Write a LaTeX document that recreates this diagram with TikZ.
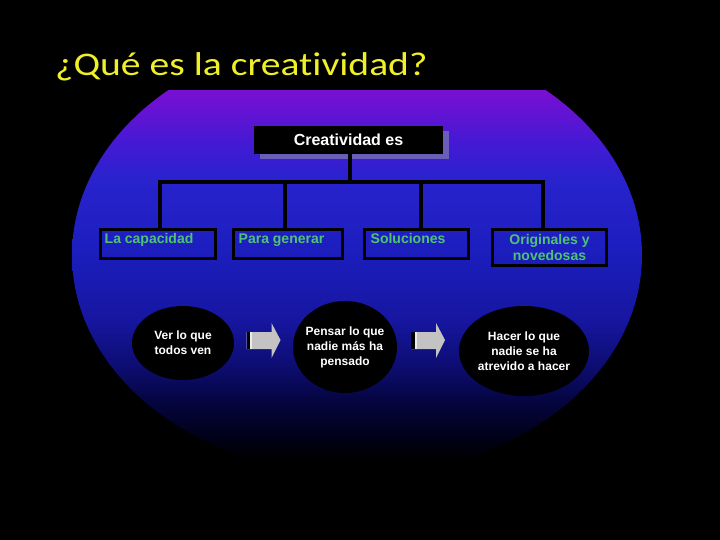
\documentclass[tikz,border=0pt]{standalone}
\usepackage{fontspec}
\setmainfont{Liberation Sans}
\newfontfamily\titlefont[FakeStretch=1.2,Ligatures=NoCommon]{Carlito}
\usetikzlibrary{shapes.geometric,calc,shadows}
\definecolor{s1}{RGB}{0,0,20}
\definecolor{s2}{RGB}{5,5,65}
\definecolor{s3}{RGB}{12,12,110}
\definecolor{s4}{RGB}{22,22,160}
\definecolor{s5}{RGB}{28,30,190}
\definecolor{s6}{RGB}{40,35,205}
\definecolor{s7}{RGB}{70,25,212}
\definecolor{s8}{RGB}{120,15,210}
\definecolor{titleyellow}{RGB}{240,240,40}
\definecolor{greentext}{RGB}{80,195,115}
\definecolor{shadowc}{RGB}{105,95,185}
\definecolor{arrowc}{RGB}{195,195,195}
\definecolor{arrowlight}{RGB}{235,235,235}
\pgfdeclareverticalshading{bgshade}{100bp}{color(0bp)=(black); color(26.7bp)=(black); color(29bp)=(s1); color(33.5bp)=(s2); color(37bp)=(s3); color(42.6bp)=(s4); color(50.6bp)=(s5); color(58.5bp)=(s6); color(63bp)=(s7); color(68.6bp)=(s8); color(100bp)=(s8)}
\newcommand\grayarrow[1]{%
  \fill[arrowc] (#1) ++(-17,-8) -- ++(25,0) -- ++(0,-9) -- ++(9,17) -- ++(-9,18) -- ++(0,-9) -- ++(-25,0) -- cycle;
  \fill[black] (#1) ++(-17,-8) rectangle ++(3.5,17);
  \fill[arrowlight] (#1) ++(-13.5,-8) rectangle ++(2,17);
}
\tikzset{
  topbox/.style={fill=black, text=white, font=\bfseries\fontsize{16}{19}\selectfont,
    minimum width=189pt, minimum height=28pt, inner sep=0pt,
    drop shadow={shadow xshift=6pt, shadow yshift=-5pt, opacity=1, fill=shadowc}},
  gbox/.style={draw=black, line width=3pt, inner sep=0pt, minimum height=29pt},
  gtext/.style={text=greentext, font=\bfseries\fontsize{14}{16}\selectfont, inner sep=0pt},
  conn/.style={draw=black, line width=3.5pt, line join=miter},
  oval/.style={ellipse, fill=black, text=white, inner sep=-6pt, align=center,
    font=\bfseries\fontsize{12}{15}\selectfont},
}
\begin{document}
\begin{tikzpicture}[x=1pt,y=-1pt]
\useasboundingbox (0,0) rectangle (720,540);
\fill[black] (0,0) rectangle (720,540);
% background shape
\begin{scope}
  \clip (0,91) rectangle (720,540);
  \fill[shading=bgshade] (357,255) ellipse [x radius=285, y radius=220];
\end{scope}
% title
\node[anchor=base west, inner sep=0pt, text=titleyellow, font=\titlefont\fontsize{33}{38}\selectfont] (title) at (55,76) {¿Qué es la creatividad?};
% top box
\node[topbox] (top) at (348.5,140) {Creatividad es};
% boxes
\node[gbox, minimum width=115pt] (b1) at (158,244) {};
\node[gbox, minimum width=109pt] (b2) at (288,244) {};
\node[gbox, minimum width=104pt] (b3) at (416.5,244) {};
\node[gbox, minimum width=114pt, minimum height=36pt, gtext, align=center] (b4) at (549.5,247.5) {Originales y\\novedosas};
\node[gtext, anchor=north west] (t1) at ([shift={(5.5,5.5)}]b1.north west) {La capacidad};
\node[gtext, anchor=north west] (t2) at ([shift={(6.5,5.5)}]b2.north west) {Para generar};
\node[gtext, anchor=north west] (t3) at ([shift={(7.5,5.5)}]b3.north west) {Soluciones};
% connectors
\coordinate (bus) at (0,182);
\coordinate (tp) at ([xshift=1.5pt]top.south);
\coordinate (p1) at ([xshift=2pt]b1.north);
\coordinate (p2) at ([xshift=-3pt]b2.north);
\coordinate (p3) at ([xshift=4.5pt]b3.north);
\coordinate (p4) at ([xshift=-6.5pt]b4.north);
\draw[conn] (tp) -- (tp |- bus);
\draw[conn] (p1) -- (p1 |- bus) -- (p4 |- bus) -- (p4);
\draw[conn] (p2) -- (p2 |- bus);
\draw[conn] (p3) -- (p3 |- bus);
% ovals
\node[oval, minimum width=102pt, minimum height=74pt] (o1) at (183,343) {Ver lo que\\todos ven};
\node[oval, minimum width=104pt, minimum height=92pt] (o2) at (345,347) {Pensar lo que\\nadie más ha\\pensado};
\node[oval, minimum width=130pt, minimum height=90pt] (o3) at (524,351) {Hacer lo que\\nadie se ha\\atrevido a hacer};
% arrows
\coordinate (m1) at ($(o1.east)!0.5!(o2.west)$);
\coordinate (m2) at ($(o2.east)!0.5!(o3.west)$);
\coordinate (a1) at (m1 |- 0,340);
\coordinate (a2) at (m2 |- 0,340);
\grayarrow{a1}
\grayarrow{a2}
\end{tikzpicture}
\end{document}
